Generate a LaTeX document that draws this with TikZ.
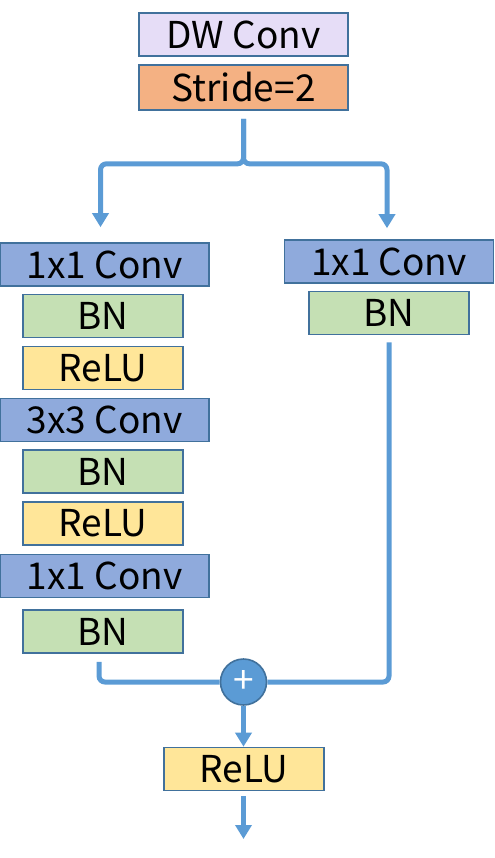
\documentclass[tikz,border=0pt]{standalone}
\usepackage{fontspec}
\newfontfamily\jpfont{Noto Sans CJK JP}
\usetikzlibrary{arrows.meta}
\definecolor{edgeblue}{HTML}{41719C}
\definecolor{flowblue}{HTML}{5B9BD5}
\definecolor{convblue}{HTML}{8FAADC}
\definecolor{bngreen}{HTML}{C5E0B4}
\definecolor{reluyellow}{HTML}{FFE699}
\definecolor{dwpurple}{HTML}{E6DDF7}
\definecolor{strideorange}{HTML}{F4B183}

\begin{document}
\begin{tikzpicture}
  [x=0.5pt,y=-0.5pt,
   every node/.style={draw=edgeblue,line width=0.8pt,inner sep=0pt,minimum height=21.5pt,
     font=\jpfont\fontsize{18.5}{20}\selectfont},
   wide/.style={minimum width=104.5pt},
   narrow/.style={minimum width=80pt},
   flow/.style={draw=flowblue,line width=2.5pt,rounded corners=3pt},
   tip/.style={-{Triangle[width=8pt,length=7pt]}}]
  \useasboundingbox (0,0) rectangle (494,858);
  \node[wide,fill=dwpurple]       (dw) at (243.5,34.5) {DW Conv};
  \node[wide,fill=strideorange,minimum height=22.5pt] (st) at (243.5,87.5) {Stride=2};

  \node[wide,fill=convblue]       (l1) at (104.5,264.5) {1x1 Conv};
  \node[narrow,fill=bngreen]      (l2) at (103,316)     {BN};
  \node[narrow,fill=reluyellow]   (l3) at (103,368)     {ReLU};
  \node[wide,fill=convblue]       (l4) at (104.5,420)   {3x3 Conv};
  \node[narrow,fill=bngreen]      (l5) at (103,471.5)   {BN};
  \node[narrow,fill=reluyellow]   (l6) at (103,523.5)   {ReLU};
  \node[wide,fill=convblue]       (l7) at (104.5,576)   {1x1 Conv};
  \node[narrow,fill=bngreen]      (l8) at (103,631.5)   {BN};

  \node[wide,fill=convblue]       (r1) at (389,261.5)   {1x1 Conv};
  \node[narrow,fill=bngreen]      (r2) at (389,313)     {BN};

  \node[circle,fill=flowblue,minimum size=23pt,text=white] (add) at (243.5,682) {+};
  \node[narrow,fill=reluyellow]   (out) at (244,769)    {ReLU};
  \coordinate (end) at (243.5,839);

  % split
  \draw[flow,tip,shorten <=4pt,shorten >=7.5pt] (st.south) -- ++(0,53) -| ([xshift=-2pt]l1.north);
  \draw[flow,tip,shorten <=4pt,shorten >=5.5pt] (st.south) -- ++(0,53) -| ([xshift=-1pt]r1.north);
  % merge
  \draw[flow,shorten <=4pt] ([xshift=-2pt]l8.south) |- (add.west);
  \draw[flow,shorten <=3.5pt] (r2.south) |- (add.east);
  \draw[flow,tip] (add.south) -- (add.south |- out.north);
  \draw[flow,tip,shorten <=2.5pt] (end |- out.south) -- (end);
\end{tikzpicture}
\end{document}
